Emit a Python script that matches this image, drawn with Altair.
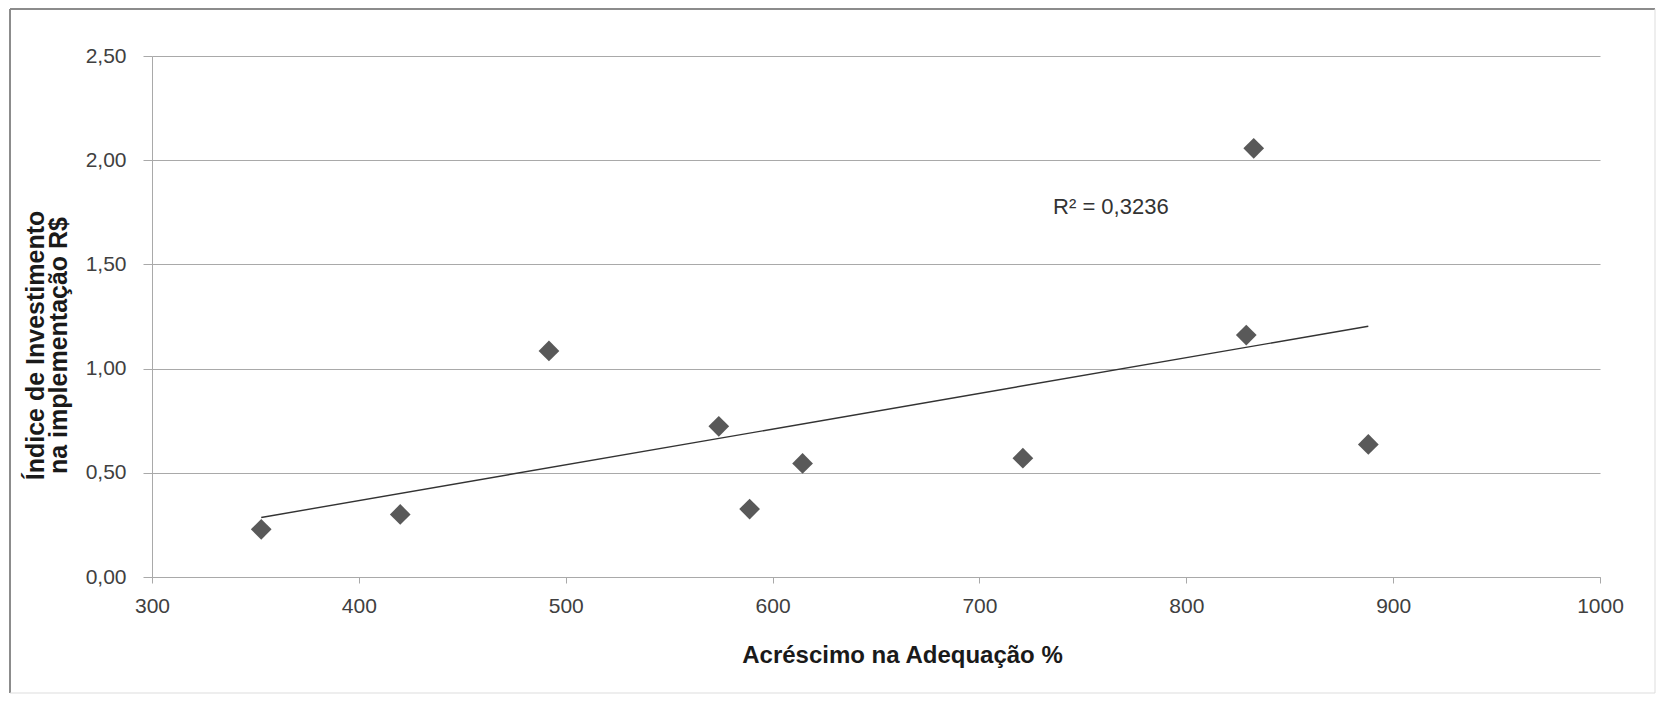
import altair as alt
import pandas as pd

# ---- data ----
x_vals = [352.8, 420.0, 491.9, 574.0, 588.9, 614.5, 721.0, 829.0, 832.6, 888.0]
y_vals = [0.229, 0.300, 1.085, 0.723, 0.326, 0.545, 0.570, 1.161, 2.057, 0.636]
x_ticks = [300, 400, 500, 600, 700, 800, 900, 1000]
y_ticks = [0.0, 0.5, 1.0, 1.5, 2.0, 2.5]
r2_text = ["R² = 0,3236"]
r2_x = [735.6]
r2_y = [1.775]

x_title = "Acréscimo na Adequação %"
y_title = ["Índice de Investimento", "na implementação R$"]

df = pd.DataFrame({"x": x_vals, "y": y_vals})
df_r2 = pd.DataFrame({"x": r2_x, "y": r2_y, "t": r2_text})
df_one = pd.DataFrame({"k": [0]})

FONT = "Liberation Sans"
W, H = 1448, 521
GRID = "#a9a9a9"

x_enc = alt.X(
    "x:Q",
    scale=alt.Scale(domain=[300, 1000], nice=False, zero=False),
    axis=alt.Axis(
        values=x_ticks, grid=False, title=x_title,
        labelExpr="'' + datum.value",
        domainColor=GRID, tickColor=GRID, tickSize=6,
        labelPadding=12, labelFontSize=21, labelColor="#404040",
        labelFlush=False, labelOverlap=False,
        titleFontSize=24, titleFontWeight="bold", titleColor="#1a1a1a",
        titleX=750, titleY=78, titleAlign="center", titleBaseline="middle",
    ),
)
y_enc = alt.Y(
    "y:Q",
    scale=alt.Scale(domain=[0, 2.5], nice=False),
    axis=alt.Axis(
        values=y_ticks, grid=True, gridColor=GRID, title=y_title,
        labelExpr="replace(format(datum.value, '.2f'), '.', ',')",
        domainColor=GRID, tickColor=GRID, tickSize=9,
        labelPadding=17, labelFontSize=21, labelColor="#404040",
        labelOverlap=False,
        titleFontSize=25, titleFontWeight="bold", titleColor="#1a1a1a",
        titleAngle=270, titleX=-117, titleY=289, titleAlign="center",
        titleBaseline="middle", titleLineHeight=23,
    ),
)

points = alt.Chart(df).mark_point(
    shape="diamond", filled=True, size=430, color="#595959", opacity=1
).encode(x=x_enc, y=y_enc)

trend = alt.Chart(df).transform_regression("x", "y").mark_line(
    color="#333333", strokeWidth=1.4
).encode(x=x_enc, y=y_enc)

label = alt.Chart(df_r2).mark_text(
    align="left", baseline="middle", font=FONT, fontSize=22, color="#333333"
).encode(x=x_enc, y=y_enc, text="t:N")

frame_l = alt.Chart(df_one).mark_rule(color="#8c8c8c", strokeWidth=2).encode(
    x=alt.value(-142), y=alt.value(-47), y2=alt.value(637))
frame_t = alt.Chart(df_one).mark_rule(color="#8c8c8c", strokeWidth=2).encode(
    x=alt.value(-142), x2=alt.value(1503), y=alt.value(-47))
frame_r = alt.Chart(df_one).mark_rule(color="#dddddd", strokeWidth=1).encode(
    x=alt.value(1503), y=alt.value(-47), y2=alt.value(637))
frame_b = alt.Chart(df_one).mark_rule(color="#dddddd", strokeWidth=1).encode(
    x=alt.value(-142), x2=alt.value(1503), y=alt.value(637))

chart = alt.layer(points, trend, label, frame_l, frame_t, frame_r, frame_b).properties(
    width=W, height=H,
    autosize=alt.AutoSizeParams(type="none"),
    padding={"left": 144, "top": 48, "right": 56, "bottom": 117},
    background="white",
).configure_view(stroke=None).configure_axis(
    labelFont=FONT, titleFont=FONT
)

chart.save("out.html", embed_options={"renderer": "svg", "actions": False})
